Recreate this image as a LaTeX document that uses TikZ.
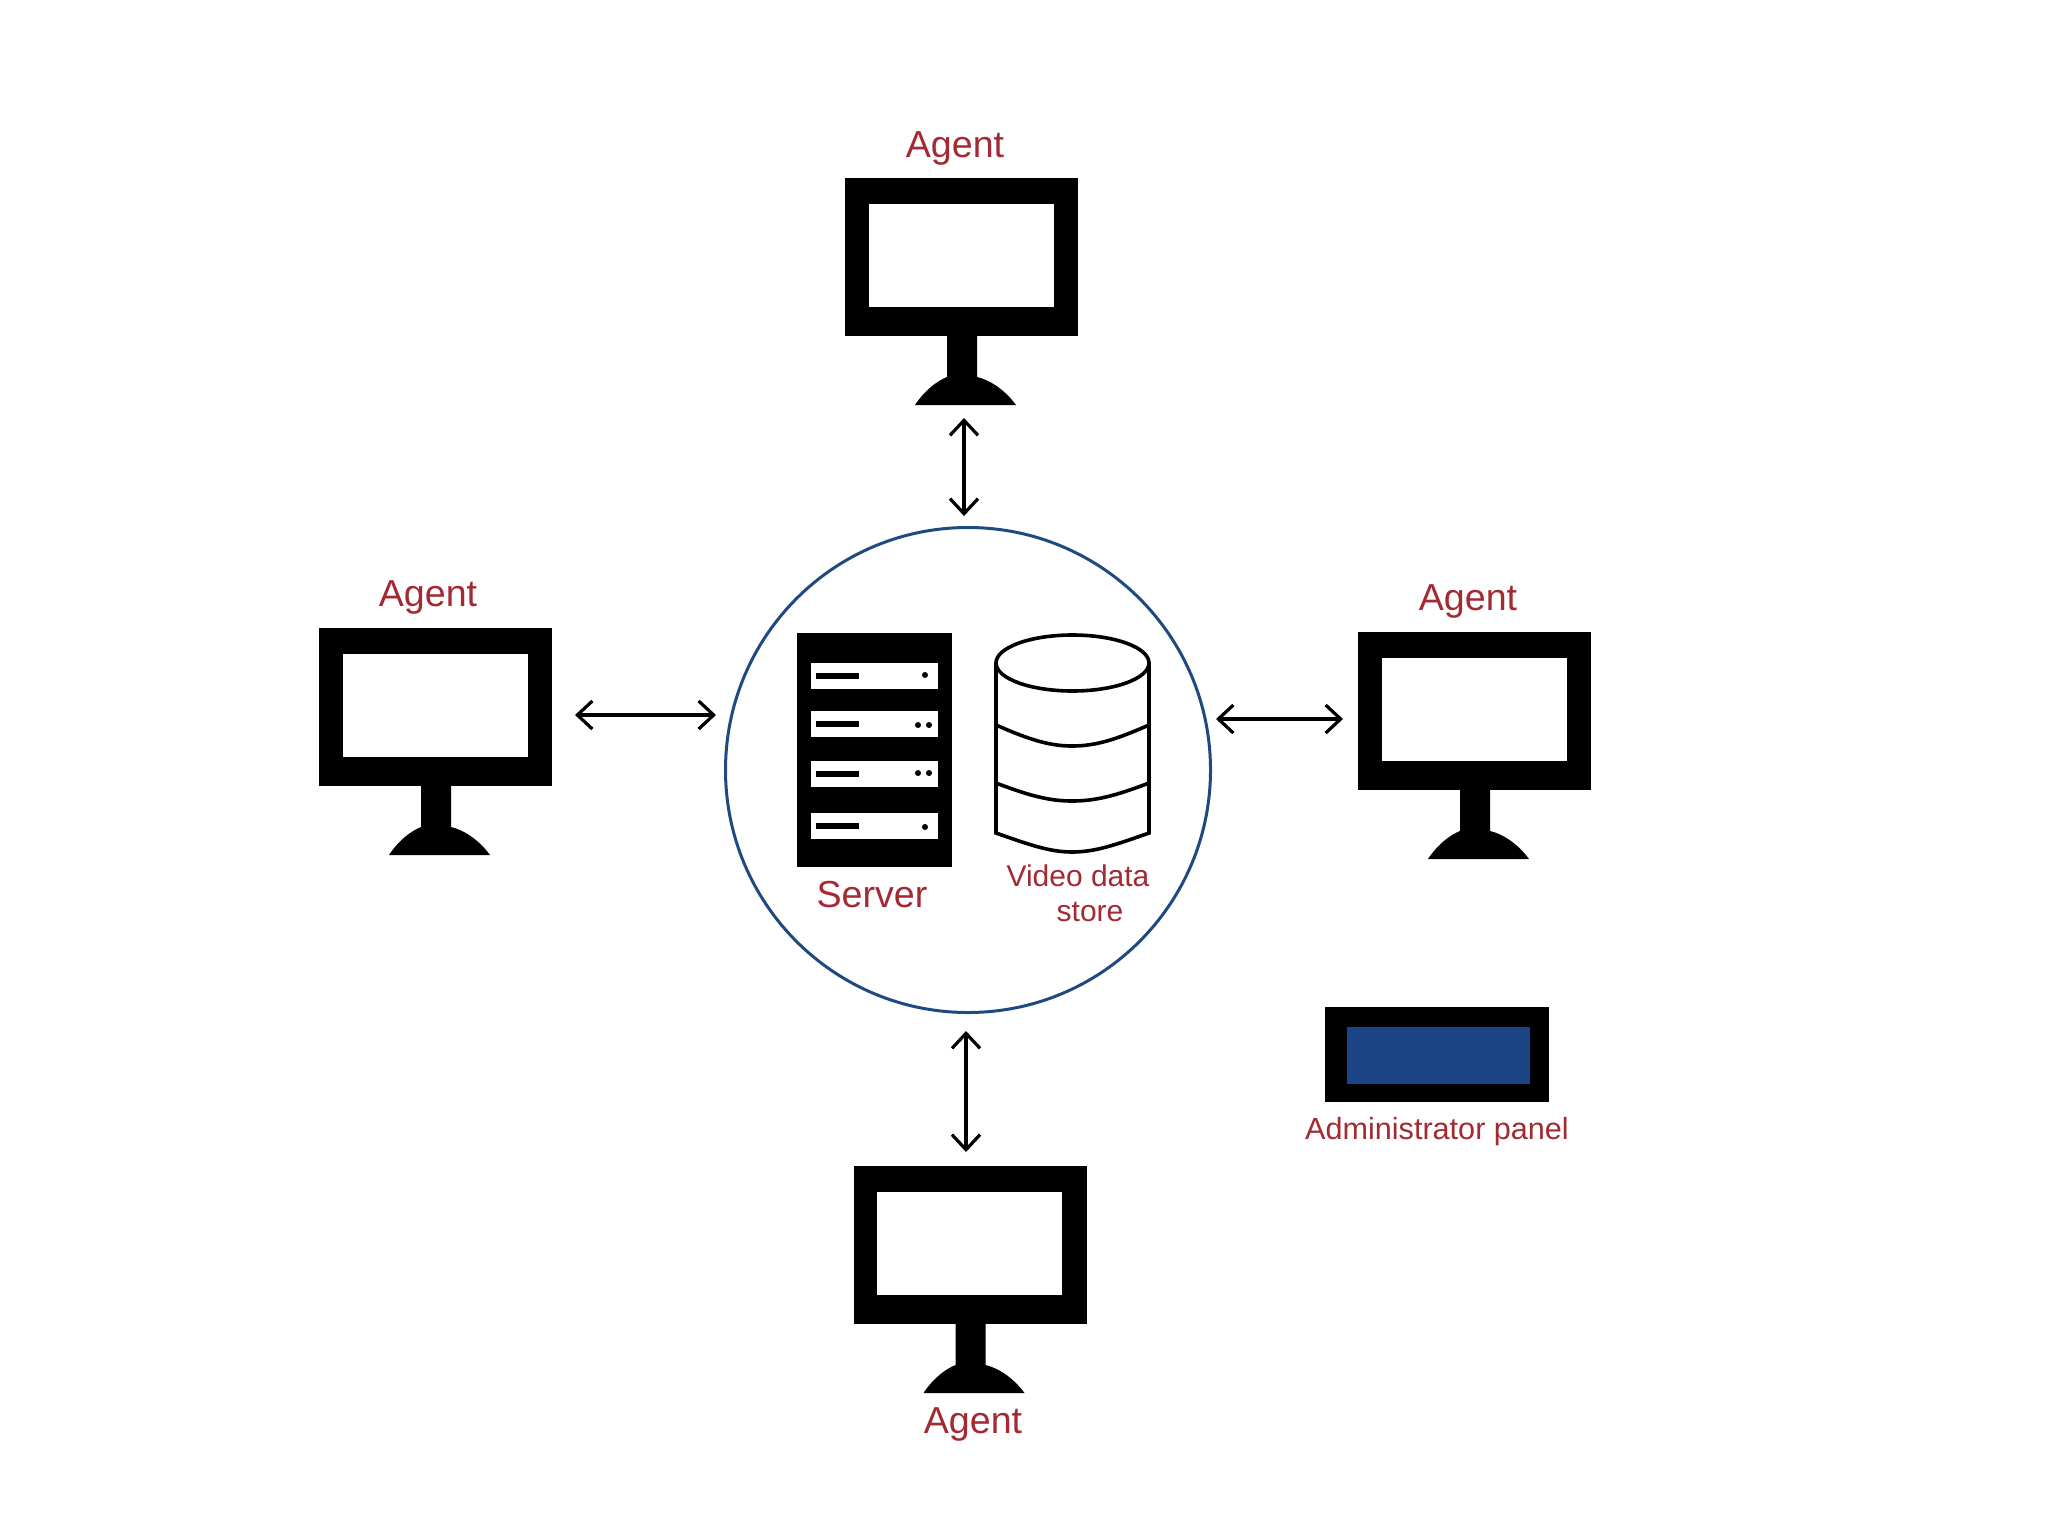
\documentclass[tikz,border=0pt]{standalone}
\usepackage{fontspec}
\setmainfont{Liberation Sans}
\usetikzlibrary{arrows.meta}
\definecolor{labelred}{HTML}{A32A33}
\definecolor{hubblue}{HTML}{1F4A80}
\definecolor{panelblue}{HTML}{1C4587}
\tikzset{
  x=0.5pt,y=-0.5pt,
  block/.style={fill=black,draw=none,inner sep=0pt,outer sep=0pt,anchor=north west},
  hole/.style={fill=white,draw=none,inner sep=0pt,outer sep=0pt,anchor=north west},
  biglabel/.style={text=labelred,font=\fontsize{18.8}{20}\selectfont,inner sep=0pt,anchor=base},
  smalllabel/.style={text=labelred,font=\fontsize{15}{17}\selectfont,inner sep=0pt,anchor=base},
  link/.style={line width=1.6pt,black,{Straight Barb[length=7.5pt,width=14pt,line width=1.6pt]}-{Straight Barb[length=7.5pt,width=14pt,line width=1.6pt]}},
  dbline/.style={line width=1.8pt,black},
  monitor/.pic={
    \node[block,minimum width=116.5pt,minimum height=79pt] (frame) at (0,0) {};
    \node[hole,minimum width=92.5pt,minimum height=51.5pt] (screen) at (23.5,25.5) {};
    \fill[black] (102,150) -- (132,150) -- (132,199)
      .. controls (145,202) and (160,212) .. (171,227) -- (70,227)
      .. controls (80,212) and (92,203) .. (102,199) -- cycle;
  },
  rackslot/.pic={
    \node[hole,minimum width=63.5pt,minimum height=12.8pt] (slot) at (0,0) {};
    \fill[black] (5,10) rectangle (48,16);
  },
  dot/.style={fill=black,draw=none,circle,inner sep=0pt,minimum size=3pt}
}
\begin{document}
\begin{tikzpicture}
\useasboundingbox (0,0) rectangle (2048,1536);
\fill[white] (0,0) rectangle (2048,1536);

% Hub
\node[draw=hubblue,line width=1.5pt,circle,fill=white,inner sep=0pt,minimum size=242.5pt] (hub) at (968,770) {};

% Agents
\pic (agentT) at (845,178) {monitor};
\pic (agentL) at (319,628) {monitor};
\pic (agentR) at (1358,632) {monitor};
\pic (agentB) at (853.5,1166) {monitor};
\node[biglabel] (labT) at (955,157.5) {Agent};
\node[biglabel] (labL) at (428,606.5) {Agent};
\node[biglabel] (labR) at (1468,610.5) {Agent};
\node[biglabel] (labB) at (973,1433) {Agent};

% Server rack
\node[block,minimum width=77.5pt,minimum height=117pt] (rack) at (797,633) {};
\pic (slotA) at (811,663) {rackslot};
\pic (slotB) at (811,711) {rackslot};
\pic (slotC) at (811,761) {rackslot};
\pic (slotD) at (811,813) {rackslot};
\node[dot] (dotA) at (925,675) {};
\node[dot] (dotB) at (918,725) {};
\node[dot] (dotBb) at (929,725) {};
\node[dot] (dotC) at (918,773) {};
\node[dot] (dotCb) at (929,773) {};
\node[dot] (dotD) at (925,827) {};
\node[biglabel] (labS) at (872,907) {Server};

% Data store
\draw[dbline] (996,662) -- (996,833) .. controls (1030,845) and (1050,852) .. (1072,852)
  .. controls (1095,852) and (1115,845) .. (1149,833) -- (1149,662);
\draw[dbline] (1072.5,663) ellipse [x radius=76.5,y radius=28];
\draw[dbline] (996,725) .. controls (1030,740) and (1050,746) .. (1072,746)
  .. controls (1095,746) and (1115,740) .. (1149,725);
\draw[dbline] (996,783) .. controls (1030,796) and (1050,801) .. (1072,801)
  .. controls (1095,801) and (1115,796) .. (1149,783);
\node[smalllabel] (labV) at (1078,886) {Video data};
\node[smalllabel] (labSt) at (1090,921) {store};

% Administrator panel
\node[block,minimum width=112pt,minimum height=47.5pt] (panel) at (1325,1006.5) {};
\node[block,fill=panelblue,minimum width=91.5pt,minimum height=28.5pt] (panelscreen) at (1346.5,1027) {};
\node[smalllabel,font=\fontsize{15.3}{17}\selectfont] (labP) at (1437,1139) {Administrator panel};

% Connectors
\coordinate (tA) at (964,418); \coordinate (tB) at (964,516);
\coordinate (lA) at (575,715); \coordinate (lB) at (716,715);
\coordinate (rA) at (1216,719); \coordinate (rB) at (1343,719);
\coordinate (bA) at (966,1031); \coordinate (bB) at (966,1152);
\draw[link] (tA) -- (tB);
\draw[link] (lA) -- (lB);
\draw[link] (rA) -- (rB);
\draw[link] (bA) -- (bB);
\end{tikzpicture}
\end{document}
